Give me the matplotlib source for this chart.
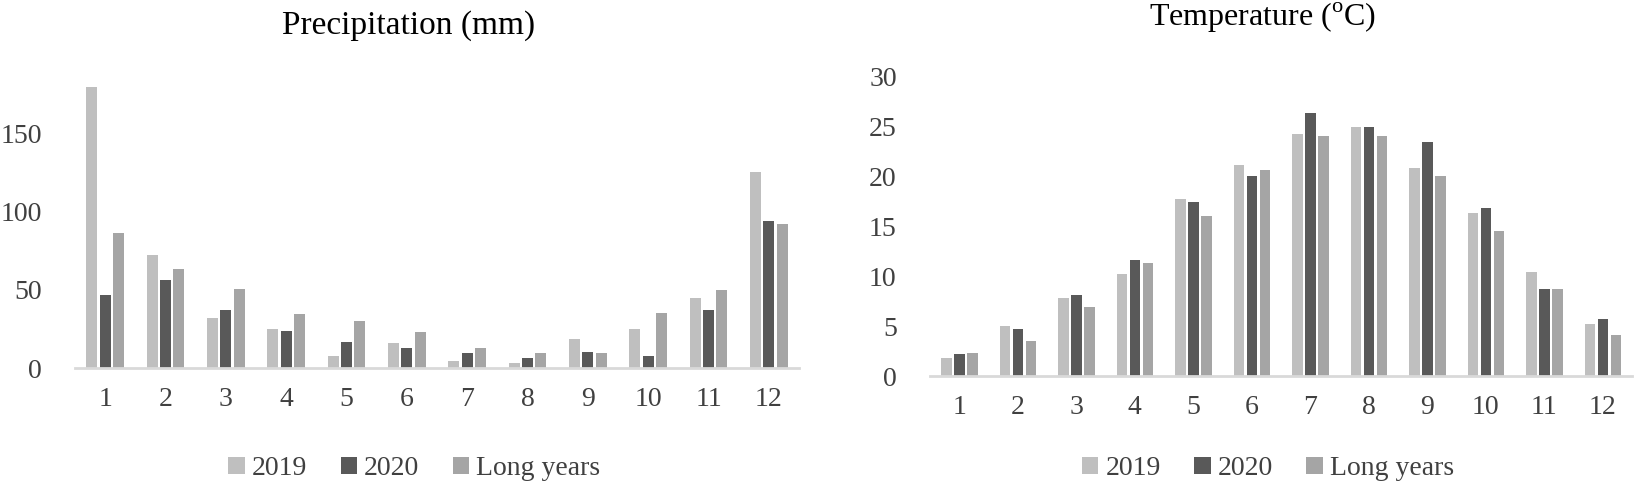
import numpy as np
import matplotlib
matplotlib.use("Agg")
import matplotlib.pyplot as plt

plt.rcParams['font.family'] = ['Liberation Serif', 'DejaVu Serif']
plt.rcParams['mathtext.fontset'] = 'custom'
plt.rcParams['mathtext.rm'] = 'Liberation Serif'

months = list(range(1, 13))
series = ["2019", "2020", "Long years"]
colors = ["#bfbfbf", "#595959", "#a5a5a5"]

# precipitation (mm)
prec_2019 = [180, 72.4, 32.3, 25.0, 7.7, 15.8, 4.3, 3.2, 18.8, 25.0, 44.7, 125.4]
prec_2020 = [46.8, 56.0, 37.4, 23.9, 16.7, 12.6, 9.4, 6.6, 10.5, 7.7, 37.4, 93.8]
prec_long = [86.7, 63.3, 50.8, 34.4, 30.1, 22.9, 12.6, 9.4, 9.4, 35.3, 49.8, 91.9]

# temperature (oC)
temp_2019 = [1.8, 5.0, 7.8, 10.2, 17.7, 21.1, 24.2, 24.9, 20.8, 16.3, 10.4, 5.2]
temp_2020 = [2.2, 4.7, 8.1, 11.6, 17.4, 20.0, 26.4, 24.9, 23.4, 16.8, 8.7, 5.7]
temp_long = [2.3, 3.5, 6.9, 11.3, 16.0, 20.6, 24.0, 24.0, 20.0, 14.5, 8.7, 4.1]

fig = plt.figure(figsize=(16.38, 4.91), dpi=100)


def bar_panel(rect, data, ylim, yticks, leg_x):
    ax = fig.add_axes(rect)
    x = np.array(months)
    w = 0.18
    step = 0.222
    for i, (vals, c, lab) in enumerate(zip(data, colors, series)):
        ax.bar(x + (i - 1) * step, vals, width=w, color=c, label=lab, zorder=2)
    ax.set_xlim(0.5, 12.5)
    ax.set_ylim(*ylim)
    ax.set_xticks(months)
    ax.set_yticks(yticks)
    for s in ["top", "right", "left"]:
        ax.spines[s].set_visible(False)
    ax.spines["bottom"].set_color("#d9d9d9")
    ax.spines["bottom"].set_linewidth(2)
    ax.tick_params(length=0, labelsize=20, colors="#404040", pad=14)
    ax.tick_params(axis="y", pad=24)
    leg = fig.legend(*ax.get_legend_handles_labels(), loc="center",
                     bbox_to_anchor=(leg_x, 0.045), ncol=3, frameon=False,
                     fontsize=20, handlelength=0.6, handleheight=0.6,
                     handletextpad=0.25, columnspacing=1.2)
    for t in leg.get_texts():
        t.set_color("#404040")
    return ax


ax1 = bar_panel([0.0458, 0.2505, 0.442, 0.5729],
                [prec_2019, prec_2020, prec_long], (0, 180), [0, 50, 100, 150], 0.253)
ax2 = bar_panel([0.5678, 0.2342, 0.4286, 0.6098],
                [temp_2019, temp_2020, temp_long], (0, 30), [0, 5, 10, 15, 20, 25, 30], 0.774)

fig.text(409 / 1638, 1 - 26 / 491, "Precipitation (mm)", ha="center", va="center", fontsize=24)
fig.text(1263 / 1638, 1 - 18 / 491, r"Temperature ($^{\rm o}$C)", ha="center", va="center", fontsize=23)

fig.savefig("out.png", dpi=100)
